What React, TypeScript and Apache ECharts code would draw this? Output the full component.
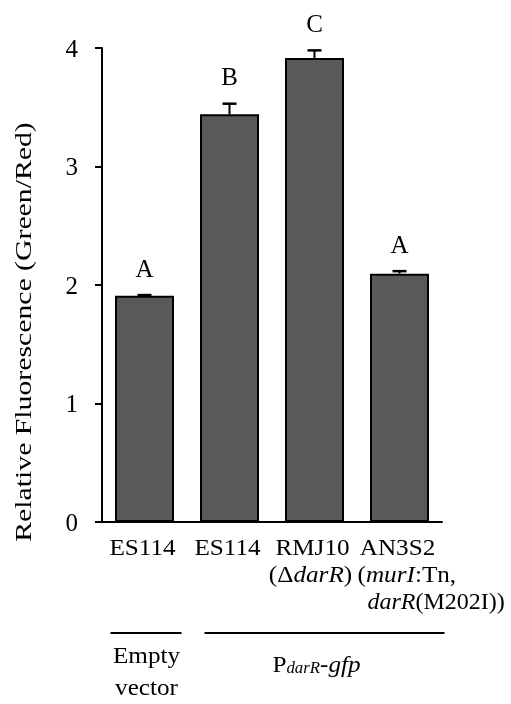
import React, { useEffect, useRef } from "react";
import * as echarts from "echarts";

const categories = ["ES114", "ES114", "RMJ10", "AN3S2"];
const subLine2 = ["", "", "(Δ{i|darR})", "({i|murI}:Tn,"];
const subLine3 = ["", "", "", "{i|darR}(M202I))"];
const values = [1.91, 3.44, 3.915, 2.095];
const errors = [0.005, 0.09, 0.065, 0.022];
const letters = ["A", "B", "C", "A"];
const yTicks = [0, 1, 2, 3, 4];
const groupLabels = ["Empty\nvector", "P{sub|darR}-{i|gfp}"];
const yName = "Relative Fluorescence (Green/Red)";

const FONT = "Liberation Serif";

export default function App() {
  const ref = useRef<HTMLDivElement>(null);
  useEffect(() => {
    const chart = echarts.init(ref.current!, null, { renderer: "svg" });
    const option: any = {
      animation: false,
      grid: { left: 102, right: 69, top: 48, bottom: 182 },
      xAxis: {
        type: "category",
        data: categories,
        axisLine: { lineStyle: { color: "#000", width: 2 } },
        axisTick: { show: false },
        axisLabel: { show: false },
      },
      yAxis: {
        type: "value",
        min: yTicks[0],
        max: yTicks[yTicks.length - 1],
        interval: 1,
        axisLine: { show: true, lineStyle: { color: "#000", width: 2 } },
        axisTick: { show: true, length: 7, lineStyle: { width: 2, color: "#000" } },
        splitLine: { show: false },
        axisLabel: { fontFamily: FONT, fontSize: 25, color: "#000", margin: 24 },
      },
      series: [
        {
          type: "bar",
          data: values,
          barWidth: 59,
          itemStyle: { color: "#595959", borderColor: "#000", borderWidth: 2 },
        },
        {
          type: "custom",
          z: 5,
          data: values.map((v, i) => [i, v, errors[i]]),
          renderItem: (params: any, api: any) => {
            const i = api.value(0);
            const v = api.value(1);
            const e = api.value(2);
            const base = api.coord([i, v]);
            const top = api.coord([i, v + e]);
            const cap = 7;
            return {
              type: "group",
              children: [
                {
                  type: "line",
                  shape: { x1: top[0], y1: base[1], x2: top[0], y2: top[1] },
                  style: { stroke: "#000", lineWidth: 2 },
                },
                {
                  type: "line",
                  shape: { x1: top[0] - cap, y1: top[1], x2: top[0] + cap, y2: top[1] },
                  style: { stroke: "#000", lineWidth: 2.5 },
                },
                {
                  type: "text",
                  x: top[0],
                  y: top[1] - 27,
                  style: {
                    text: letters[params.dataIndex],
                    fontFamily: FONT,
                    fontSize: 25,
                    fill: "#000",
                    align: "center",
                    verticalAlign: "middle",
                  },
                },
              ],
            };
          },
        },
      ],
    };
    chart.setOption(option);

    const cx = categories.map((_, i) => chart.convertToPixel({ xAxisIndex: 0 }, i) as number);
    const SX = 1.05;
    const richBase = {
      i: { fontFamily: FONT, fontSize: 24, fontStyle: "italic", fill: "#000" },
    };
    const baseStyle = { fontFamily: FONT, fontSize: 24, fill: "#000", verticalAlign: "middle" };
    const graphic: any[] = [];
    categories.forEach((c, i) => {
      graphic.push({
        type: "text",
        x: cx[i] - 2,
        y: 547,
        scaleX: SX,
        style: { ...baseStyle, text: c, align: "center" },
      });
    });
    graphic.push({
      type: "text",
      x: cx[2] - 4,
      y: 574,
      scaleX: SX,
      style: { ...baseStyle, text: subLine2[2], align: "center", rich: richBase },
    });
    graphic.push({
      type: "text",
      x: cx[3] - 42,
      y: 574,
      scaleX: SX,
      style: { ...baseStyle, text: subLine2[3], align: "left", rich: richBase },
    });
    graphic.push({
      type: "text",
      x: cx[3] - 32,
      y: 601,
      scaleX: 1.0,
      style: { ...baseStyle, text: subLine3[3], align: "left", rich: richBase },
    });
    const lineY = 633;
    graphic.push({
      type: "line",
      shape: { x1: cx[0] - 34, y1: lineY, x2: cx[0] + 37, y2: lineY },
      style: { stroke: "#000", lineWidth: 2 },
    });
    graphic.push({
      type: "line",
      shape: { x1: cx[1] - 25, y1: lineY, x2: cx[3] + 45, y2: lineY },
      style: { stroke: "#000", lineWidth: 2 },
    });
    graphic.push({
      type: "text",
      x: cx[0] + 2,
      y: 671,
      scaleX: SX,
      style: { ...baseStyle, text: groupLabels[0], lineHeight: 32, align: "center" },
    });
    graphic.push({
      type: "text",
      x: cx[2] + 2,
      y: 664,
      scaleX: SX,
      style: {
        ...baseStyle,
        text: groupLabels[1],
        align: "center",
        rich: {
          sub: { fontFamily: FONT, fontSize: 16, fontStyle: "italic", fill: "#000", verticalAlign: "bottom", lineHeight: 14, padding: [10, 0, 0, 0] },
          i: { fontFamily: FONT, fontSize: 24, fontStyle: "italic", fill: "#000" },
        },
      },
    });
    graphic.push({
      type: "text",
      x: 23,
      y: 332,
      rotation: Math.PI / 2,
      scaleX: 1.24,
      style: { ...baseStyle, text: yName, align: "center" },
    });
    chart.setOption({ graphic });

    return () => chart.dispose();
  }, []);
  return <div ref={ref} style={{ position: "fixed", left: 0, top: 0, width: 511, height: 704 }} />;
}
